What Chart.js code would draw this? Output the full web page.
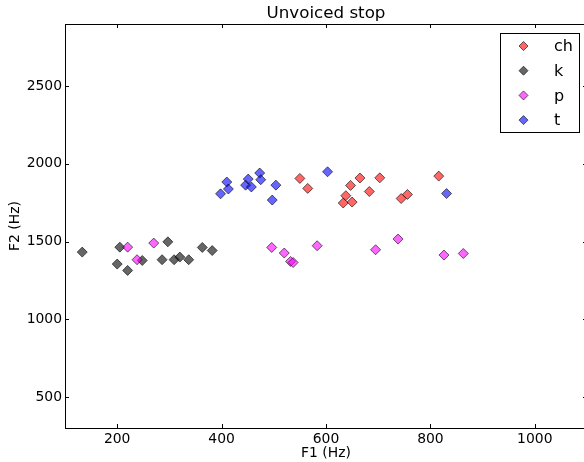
<!DOCTYPE html>
<html>
<head>
<meta charset="utf-8">
<script src="https://cdn.jsdelivr.net/npm/chart.js@4/dist/chart.umd.min.js"></script>
<style>
    html, body { margin: 0; padding: 0; background: #fff; overflow: hidden; }
    #wrap { width: 600px; height: 462px; }
</style>
</head>
<body>
<div id="wrap"><canvas id="chart"></canvas></div>
<script>
const titleText = 'Unvoiced stop';
const seriesNames = ['ch', 'k', 'p', 't'];

const chF1 = [550, 565, 633, 638, 647, 650, 665, 683, 703, 744, 756, 816];
const chF2 = [1906, 1842, 1748, 1795, 1861, 1754, 1909, 1822, 1910, 1777, 1803, 1921];
const kF1 = [133, 200, 205, 220, 248, 286, 297, 309, 320, 337, 363, 382];
const kF2 = [1432, 1355, 1464, 1314, 1378, 1383, 1498, 1383, 1400, 1383, 1462, 1442];
const pF1 = [220, 238, 270, 496, 520, 532, 537, 583, 695, 738, 826, 863];
const pF2 = [1464, 1383, 1490, 1462, 1426, 1372, 1365, 1473, 1447, 1516, 1413, 1423];
const tF1 = [398, 410, 413, 446, 451, 457, 473, 475, 497, 504, 603, 831];
const tF2 = [1807, 1883, 1838, 1863, 1902, 1851, 1941, 1898, 1767, 1863, 1949, 1809];

const xTicks = [200, 400, 600, 800, 1000];
const yTicks = [500, 1000, 1500, 2000, 2500];

const colours = ['rgba(255,0,0,0.6)', 'rgba(0,0,0,0.6)', 'rgba(255,0,255,0.6)', 'rgba(0,0,255,0.6)'];
const FONT = '"DejaVu Sans", sans-serif';

function points(xs, ys) {
    return xs.map((x, i) => ({x, y: ys[i]}));
}

const seriesData = [points(chF1, chF2), points(kF1, kF2), points(pF1, pF2), points(tF1, tF2)];

function diamond(ctx, x, y, r) {
    ctx.beginPath();
    ctx.moveTo(x - r, y);
    ctx.lineTo(x, y - r);
    ctx.lineTo(x + r, y);
    ctx.lineTo(x, y + r);
    ctx.closePath();
}

// frame, inward ticks, title and the boxed legend, matplotlib style
const decorations = {
    id: 'decorations',
    afterDraw(chart) {
        const ctx = chart.ctx;
        const a = chart.chartArea;
        const xs = chart.scales.x, ys = chart.scales.y;
        ctx.save();

        ctx.strokeStyle = '#000';
        ctx.lineWidth = 1;
        ctx.strokeRect(a.left + 0.5, a.top + 0.5, a.right - a.left, a.bottom - a.top);

        ctx.beginPath();
        xs.ticks.forEach(t => {
            const px = Math.round(xs.getPixelForValue(t.value)) + 0.5;
            ctx.moveTo(px, a.bottom); ctx.lineTo(px, a.bottom - 4);
            ctx.moveTo(px, a.top); ctx.lineTo(px, a.top + 4);
        });
        ys.ticks.forEach(t => {
            const py = Math.round(ys.getPixelForValue(t.value)) + 0.5;
            ctx.moveTo(a.left, py); ctx.lineTo(a.left + 4, py);
            ctx.moveTo(a.right, py); ctx.lineTo(a.right - 4, py);
        });
        ctx.stroke();

        // title centred over the plot area
        ctx.fillStyle = '#000';
        ctx.font = '16.7px ' + FONT;
        ctx.textAlign = 'center';
        ctx.textBaseline = 'middle';
        ctx.fillText(titleText, (a.left + a.right) / 2, 13.5);

        // legend
        const left = a.right - 87, top = a.top + 9, w = 79, h = 99;
        ctx.fillStyle = '#fff';
        ctx.fillRect(left, top, w, h);
        ctx.strokeRect(left + 0.5, top + 0.5, w, h);
        ctx.font = '16px ' + FONT;
        ctx.textAlign = 'left';
        chart.data.datasets.forEach((ds, i) => {
            const y = top + 13 + i * 24.7;
            diamond(ctx, left + 23.5, y, 4.5);
            ctx.fillStyle = ds.backgroundColor;
            ctx.fill();
            ctx.strokeStyle = ds.borderColor;
            ctx.stroke();
            ctx.fillStyle = '#000';
            ctx.fillText(ds.label, left + 54, y + 1);
        });
        ctx.restore();
    }
};

const ctx = document.getElementById('chart').getContext('2d');

new Chart(ctx, {
    type: 'scatter',

    data: {
        datasets: seriesNames.map((name, i) => ({
            label: name,
            data: seriesData[i],
            backgroundColor: colours[i],
            borderColor: 'rgba(0,0,0,0.6)',
            borderWidth: 1,
            pointStyle: 'rectRot',
            pointRadius: 5,
            order: seriesNames.length - i
        }))
    },

    options: {
        responsive: true,
        maintainAspectRatio: false,
        animation: false,
        layout: {
            padding: {top: 24, right: 13, left: 0, bottom: 0}
        },
        plugins: {
            legend: {display: false},
            tooltip: {enabled: false},
            title: {display: false}
        },
        scales: {
            x: {
                type: 'linear',
                min: 100,
                max: 1100,
                afterBuildTicks: s => { s.ticks = xTicks.map(v => ({value: v})); },
                afterFit: s => { s.height = 34; },
                grid: {display: false, drawTicks: false},
                border: {display: false},
                ticks: {
                    color: '#000',
                    padding: 3,
                    maxRotation: 0,
                    callback: v => String(v),
                    font: {family: FONT, size: 13.9}
                },
                title: {
                    display: true,
                    text: 'F1 (Hz)',
                    color: '#000',
                    padding: {top: 0, bottom: 0},
                    font: {family: FONT, size: 13.9}
                }
            },
            y: {
                type: 'linear',
                min: 300,
                max: 2900,
                afterBuildTicks: s => { s.ticks = yTicks.map(v => ({value: v})); },
                afterFit: s => { s.width = 65; },
                grid: {display: false, drawTicks: false},
                border: {display: false},
                ticks: {
                    color: '#000',
                    padding: 3,
                    callback: v => String(v),
                    font: {family: FONT, size: 13.9}
                },
                title: {
                    display: true,
                    text: 'F2 (Hz)',
                    color: '#000',
                    padding: {top: 7, bottom: 0},
                    font: {family: FONT, size: 13.9}
                }
            }
        }
    },

    plugins: [decorations]
});
</script>
</body>
</html>
